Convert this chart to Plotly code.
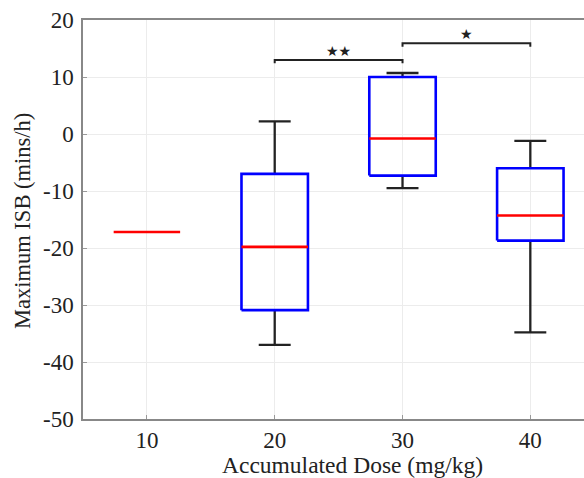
import plotly.graph_objects as go

# ---- data ----
dose_labels = ["10", "20", "30", "40"]
positions = [1, 2, 3, 4]
lower_whisker = [-17.2, -37.0, -9.5, -34.8]
q1 = [-17.2, -30.9, -7.3, -18.7]
median = [-17.2, -19.8, -0.8, -14.3]
q3 = [-17.2, -7.0, 10.0, -6.0]
upper_whisker = [-17.2, 2.2, 10.7, -1.2]

sig_pairs = [(2, 3), (3, 4)]
sig_levels = [13.0, 15.9]
sig_labels = ["★★", "★"]

y_ticks = [-50, -40, -30, -20, -10, 0, 10, 20]
y_ticktext = ["-50", "-40", "-30", "-20", "-10", "0", "10", "20"]

BOX_HW = 0.26
CAP_HW = 0.125
FONT = "Liberation Serif, Times New Roman, serif"
TXT = "#222222"

fig = go.Figure()

for p, lw, a, m, b, uw in zip(positions, lower_whisker, q1, median, q3, upper_whisker):
    if b > a:
        fig.add_trace(go.Scatter(
            x=[p, p, None, p - CAP_HW, p + CAP_HW, None, p, p, None, p - CAP_HW, p + CAP_HW],
            y=[b, uw, None, uw, uw, None, a, lw, None, lw, lw],
            mode="lines", line=dict(color="#222222", width=2.3),
            hoverinfo="skip", showlegend=False))
        fig.add_trace(go.Scatter(
            x=[p - BOX_HW, p + BOX_HW, p + BOX_HW, p - BOX_HW, p - BOX_HW],
            y=[a, a, b, b, a],
            mode="lines", line=dict(color="#0000ff", width=2.6),
            hoverinfo="skip", showlegend=False))
    fig.add_trace(go.Scatter(
        x=[p - BOX_HW, p + BOX_HW], y=[m, m],
        mode="lines", line=dict(color="#ff0000", width=2.6),
        hoverinfo="skip", showlegend=False))

for (x0, x1), lvl, lab in zip(sig_pairs, sig_levels, sig_labels):
    fig.add_trace(go.Scatter(
        x=[x0, x0, x1, x1], y=[lvl - 0.6, lvl, lvl, lvl - 0.6],
        mode="lines", line=dict(color="#222222", width=2),
        hoverinfo="skip", showlegend=False))
    fig.add_annotation(x=(x0 + x1) / 2, y=lvl, text=lab, showarrow=False,
                       yanchor="bottom", yshift=-1,
                       font=dict(family="DejaVu Sans", size=14, color=TXT))

fig.add_annotation(x=(352 - 83) / 501, y=(419 - 465) / 399, xref="paper", yref="paper",
                   text="Accumulated Dose (mg/kg)", showarrow=False,
                   xanchor="center", yanchor="middle",
                   font=dict(family=FONT, size=23.5, color=TXT))
fig.add_annotation(x=(22 - 83) / 501, y=(419 - 221) / 399, xref="paper", yref="paper",
                   text="Maximum ISB (mins/h)", showarrow=False, textangle=-90,
                   xanchor="center", yanchor="middle",
                   font=dict(family=FONT, size=22.5, color=TXT))

fig.update_layout(
    width=584, height=478,
    margin=dict(l=83, r=0, t=20, b=59, autoexpand=False),
    plot_bgcolor="white", paper_bgcolor="white",
    font=dict(family=FONT, size=23, color=TXT),
    xaxis=dict(
        range=[0.5, 4.42], tickmode="array", tickvals=positions, ticktext=dose_labels,
        showgrid=True, gridcolor="#ececec", gridwidth=1,
        showline=True, linecolor="#888888", linewidth=1.5, mirror=True,
        ticks="inside", ticklen=4, tickcolor="#999999", zeroline=False,
        automargin=False,
    ),
    yaxis=dict(
        range=[-50, 20], tickmode="array", tickvals=y_ticks, ticktext=y_ticktext,
        showgrid=True, gridcolor="#ececec", gridwidth=1,
        showline=True, linecolor="#888888", linewidth=1.5,
        ticks="inside", ticklen=4, tickcolor="#999999", zeroline=False,
        automargin=False, ticklabelstandoff=3,
    ),
)

fig.write_html("out.html", config={"displayModeBar": False},
               post_script="document.body.style.margin='0';document.body.style.overflow='hidden';")
